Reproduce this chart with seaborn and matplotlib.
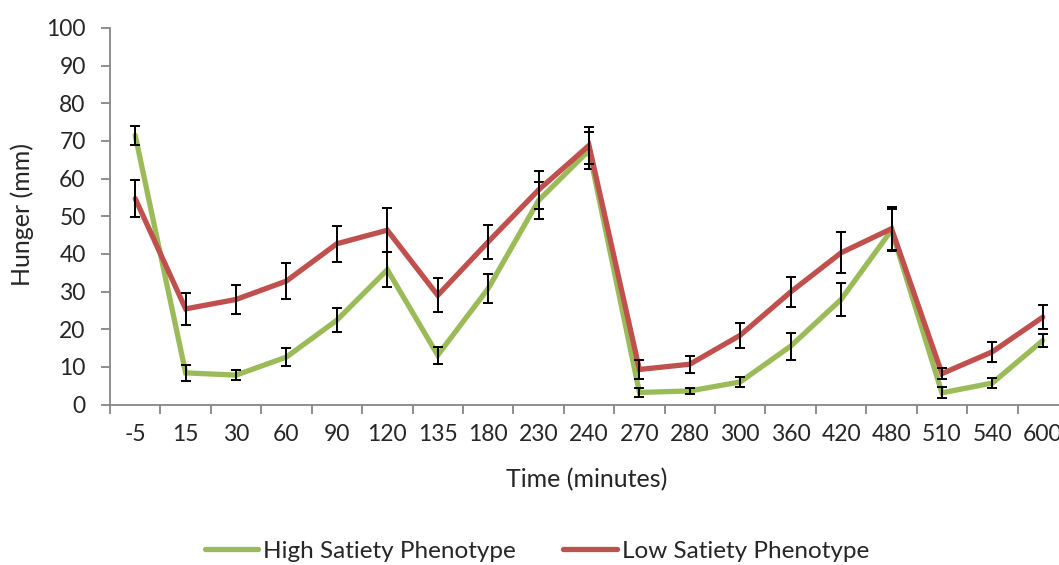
import matplotlib
matplotlib.use("Agg")
import matplotlib.pyplot as plt
import numpy as np
import pandas as pd
import seaborn as sns

# Time points (minutes) and mean hunger ratings with error-bar half widths
time_labels = ["-5", "15", "30", "60", "90", "120", "135", "180", "230", "240",
               "270", "280", "300", "360", "420", "480", "510", "540", "600"]
high_satiety = [71.5, 8.4, 7.8, 12.6, 22.4, 35.8, 13.1, 30.8, 54.2, 67.5,
                3.2, 3.6, 6.0, 15.5, 27.9, 46.3, 3.1, 5.7, 17.0]
high_err = [2.5, 2.1, 1.3, 2.3, 3.1, 4.6, 2.3, 3.9, 5.0, 5.0,
            1.1, 0.9, 1.4, 3.6, 4.4, 5.5, 1.5, 1.4, 1.6]
low_satiety = [54.7, 25.4, 27.9, 32.8, 42.7, 46.3, 29.0, 43.2, 57.0, 68.8,
               9.3, 10.7, 18.4, 29.9, 40.3, 46.7, 8.2, 14.0, 23.2]
low_err = [4.8, 4.2, 3.9, 4.9, 4.8, 5.8, 4.5, 4.5, 5.0, 5.0,
           2.5, 2.3, 3.3, 3.9, 5.4, 5.7, 1.5, 2.6, 3.1]
series_names = ["High Satiety Phenotype", "Low Satiety Phenotype"]
series_colors = ["#9BBB59", "#C0504D"]

sns.set_style("white")
plt.rcParams["font.family"] = ["Lato", "DejaVu Sans"]

df = pd.DataFrame({
    "Time": time_labels * 2,
    "Hunger": high_satiety + low_satiety,
    "Group": [series_names[0]] * len(time_labels) + [series_names[1]] * len(time_labels),
})

W, H = 1059, 565
fig = plt.figure(figsize=(W / 100, H / 100), dpi=100)
ax_left, ax_bottom_px, ax_top_px, ax_width = 110, 404.5, 28, 958
ax = fig.add_axes([ax_left / W, 1 - ax_bottom_px / H, ax_width / W,
                   (ax_bottom_px - ax_top_px) / H])

line_w = 3.8
sns.lineplot(data=df, x="Time", y="Hunger", hue="Group", palette=series_colors,
             hue_order=series_names, sort=False, linewidth=line_w, errorbar=None,
             ax=ax, legend=False)
for i, ln in enumerate(ax.get_lines()):
    ln.set_zorder(2 + i)
    ln.set_solid_joinstyle("miter")

for i, (vals, err) in enumerate([(high_satiety, high_err), (low_satiety, low_err)]):
    ax.errorbar(time_labels, vals, yerr=err, fmt="none", ecolor="black",
                elinewidth=1.4, capsize=3.8, capthick=1.4, zorder=2.5 + i)

ax.set_ylim(0, 100)
ax.set_xlim(-0.5, len(time_labels) - 0.5)
ax.set_yticks(np.arange(0, 101, 10))
ax.set_xticks(np.arange(-0.5, len(time_labels), 1.0), minor=True)

axis_gray = "#868686"
for side in ["top", "right"]:
    ax.spines[side].set_visible(False)
for side in ["left", "bottom"]:
    ax.spines[side].set_color(axis_gray)
    ax.spines[side].set_linewidth(1.3)

tick_fs = 16.5
ax.tick_params(axis="y", which="major", direction="out", length=6.5, width=1.3,
               color=axis_gray, labelsize=tick_fs, pad=11, left=True)
ax.tick_params(axis="x", which="major", length=0, labelsize=tick_fs, pad=14)
ax.tick_params(axis="x", which="minor", direction="out", length=6.5, width=1.3,
               color=axis_gray, bottom=True)

label_fs = 18
ax.set_xlabel("Time (minutes)", fontsize=label_fs)
ax.set_ylabel("Hunger (mm)", fontsize=label_fs)
ax.xaxis.set_label_coords((587 - ax_left) / ax_width, (ax_bottom_px - 480) / (ax_bottom_px - ax_top_px))
ax.xaxis.label.set_va("center")
ax.yaxis.set_label_coords((22 - ax_left) / ax_width, 0.505)
ax.yaxis.label.set_va("center")

handles = [plt.Line2D([], [], color=c, linewidth=line_w) for c in series_colors]
fig.legend(handles, series_names, loc="center", bbox_to_anchor=(537 / W, 1 - 551 / H),
           ncol=2, frameon=False, fontsize=17.5, handlelength=2.2, handletextpad=0.2,
           columnspacing=1.95, borderpad=0, borderaxespad=0)

fig.savefig("out.png", dpi=100)
